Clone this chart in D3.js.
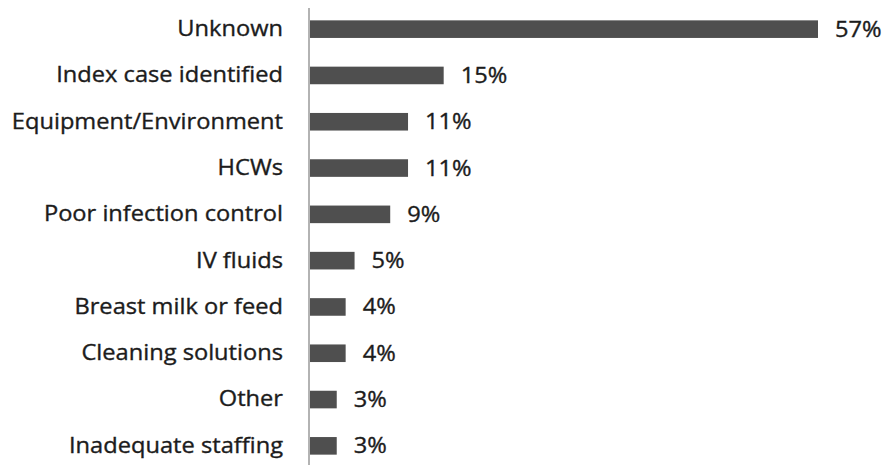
<!DOCTYPE html>
<html>
<head>
<meta charset="utf-8">
<script src="https://cdn.jsdelivr.net/npm/d3@7"></script>
<style>
  html, body { margin: 0; padding: 0; background: #fff; }
  svg text {
    font-family: "Open Sans", sans-serif;
    fill: #1c1c1c;
    stroke: #1c1c1c;
    stroke-width: 0.35px;
  }
</style>
</head>
<body>
<svg id="chart" width="884" height="465"></svg>
<script>
// Reported sources of outbreaks (% of outbreaks)
const categories = [
  "Unknown",
  "Index case identified",
  "Equipment/Environment",
  "HCWs",
  "Poor infection control",
  "IV fluids",
  "Breast milk or feed",
  "Cleaning solutions",
  "Other",
  "Inadequate staffing"
];
const values = [57, 15, 11, 11, 9, 5, 4, 4, 3, 3];
const valueLabels = values.map(v => v + "%");

const svg = d3.select("#chart");
const margin = { top: 6, right: 0, bottom: 0, left: 309 };
const height = 465;
const fontSize = "21.5px";
const stretch = 1.1; // slightly widened lettering

const x = d3.scaleLinear()
  .domain([0, 57])
  .range([margin.left + 1, 818]);

const y = d3.scaleBand()
  .domain(categories)
  .range([margin.top, margin.top + 46.3 * categories.length])
  .paddingInner(0.62)
  .paddingOuter(0.31);

// Bars
svg.append("g")
  .selectAll("rect")
  .data(values)
  .join("rect")
  .attr("x", x(0))
  .attr("y", (d, i) => y(categories[i]))
  .attr("width", d => x(d) - x(0))
  .attr("height", y.bandwidth())
  .attr("fill", "#4f4f4f");

// Category labels on the left
const axis = d3.axisLeft(y).tickSize(0).tickPadding(0);
const gAxis = svg.append("g")
  .attr("transform", `translate(${margin.left},0)`)
  .call(axis);
gAxis.select(".domain").remove();
gAxis.selectAll("text")
  .attr("x", 0)
  .attr("transform", `translate(-26,0) scale(${stretch},1)`)
  .style("font-size", fontSize)
  .style("font-family", "'Open Sans', sans-serif")
  .attr("fill", "#1c1c1c");

// Vertical axis line
svg.append("line")
  .attr("x1", margin.left).attr("x2", margin.left)
  .attr("y1", 8).attr("y2", height)
  .attr("stroke", "#9a9a9a")
  .attr("stroke-width", 1.5);

// Value labels
svg.append("g")
  .selectAll("text")
  .data(values)
  .join("text")
  .attr("transform", (d, i) =>
    `translate(${x(d) + 17},${y(categories[i]) + y.bandwidth() / 2}) scale(${stretch},1)`)
  .attr("dy", "0.35em")
  .style("font-size", fontSize)
  .text((d, i) => valueLabels[i]);
</script>
</body>
</html>
